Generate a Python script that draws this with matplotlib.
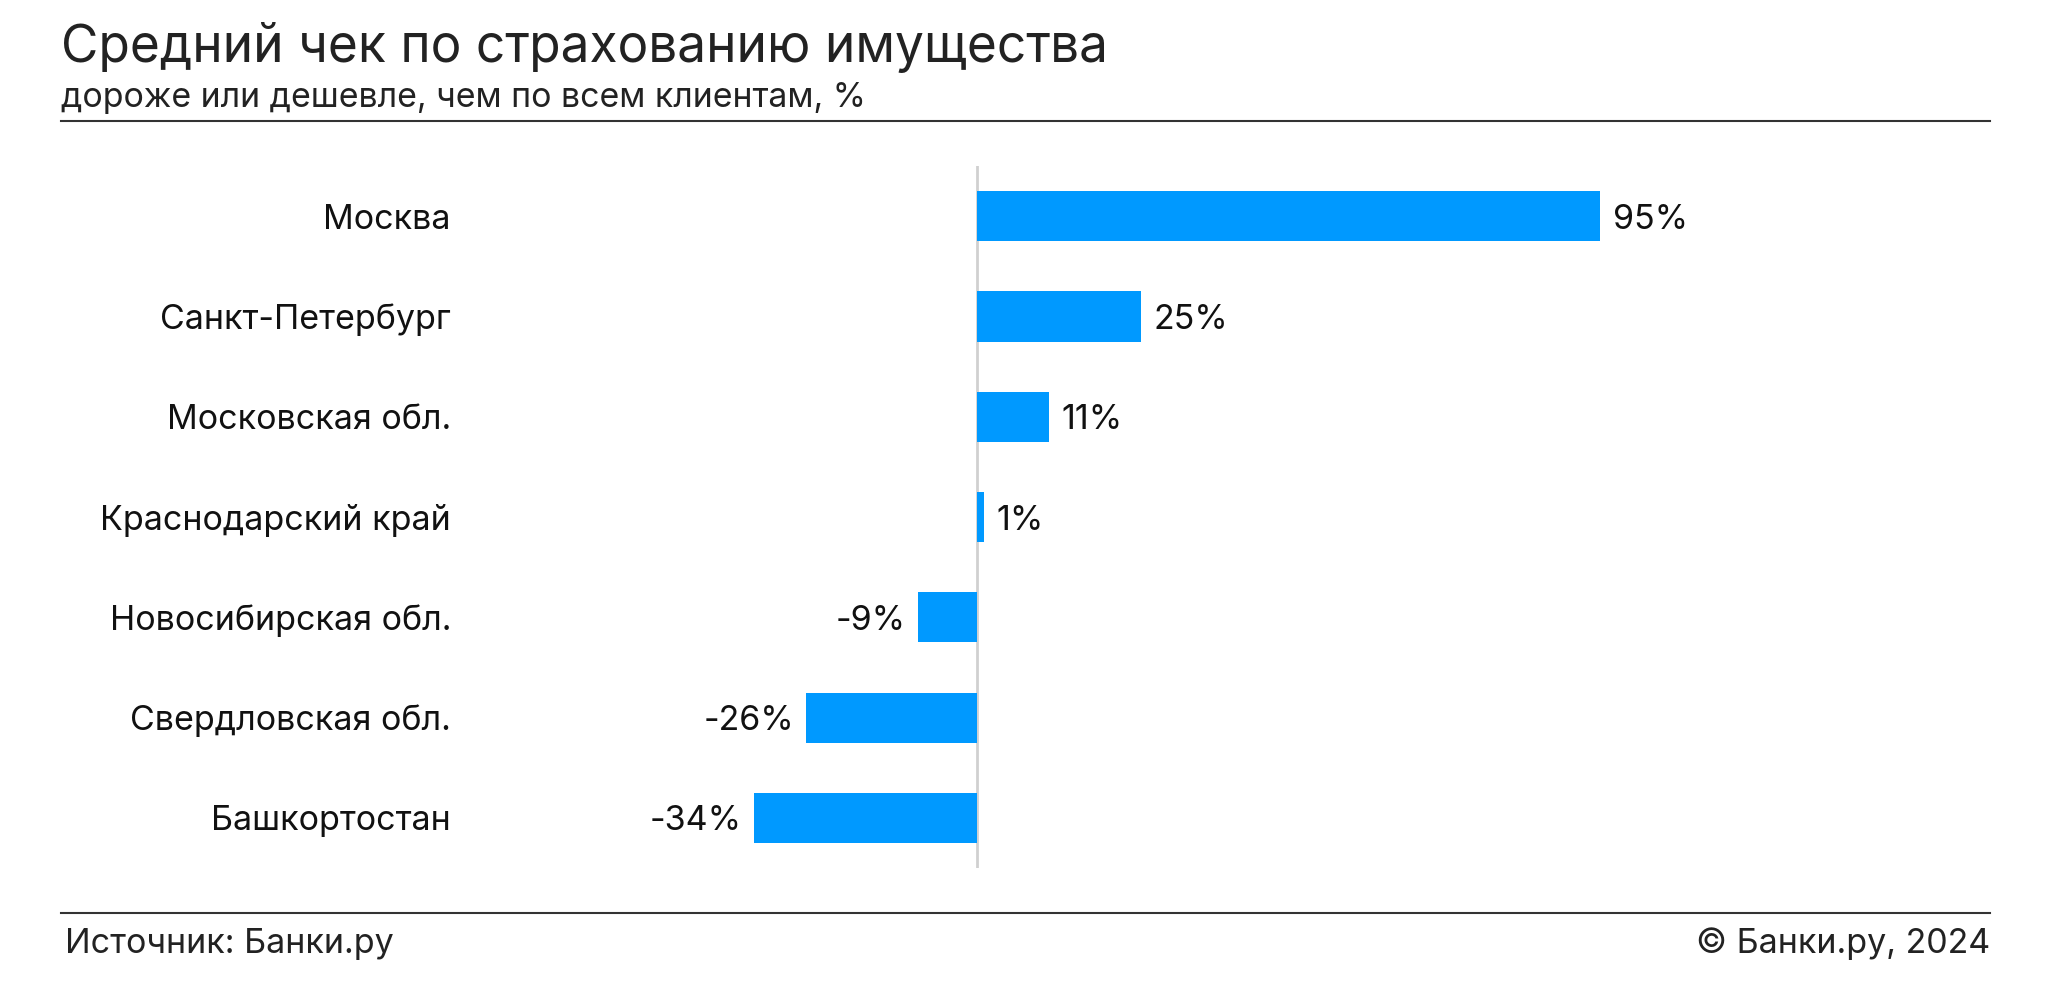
import matplotlib.pyplot as plt
from matplotlib.lines import Line2D

plt.rcParams['font.family'] = ['Inter', 'DejaVu Sans']

# data
regions = ['Москва', 'Санкт-Петербург', 'Московская обл.', 'Краснодарский край',
           'Новосибирская обл.', 'Свердловская обл.', 'Башкортостан']
values = [95, 25, 11, 1, -9, -26, -34]

W, H = 2049, 990
fig = plt.figure(figsize=(W / 100, H / 100), dpi=100)

# axes placed in pixels: zero at x=977, 6.56 px per percent
left_px, right_px = 640, 1700
zero_px, ppu = 977, 6.56
ax = fig.add_axes([left_px / W, 1 - 868 / H, (right_px - left_px) / W, (868 - 166) / H])
ax.set_xlim(-(zero_px - left_px) / ppu, (right_px - zero_px) / ppu)
ax.set_ylim(len(regions) - 0.5, -0.5)

ypos = list(range(len(regions)))
ax.barh(ypos, values, height=0.5, color='#0099ff')
ax.axvline(0, color='#d0d0d0', lw=2, zorder=0)

lab_size = 24.5
for y, v in zip(ypos, values):
    if v >= 0:
        ax.annotate(f'{v}%', (v, y), xytext=(9, 0), textcoords='offset points',
                    ha='left', va='center_baseline', fontsize=lab_size, color='#111111')
    else:
        ax.annotate(f'{v}%', (v, y), xytext=(-9, 0), textcoords='offset points',
                    ha='right', va='center_baseline', fontsize=lab_size, color='#111111')

ax.set_yticks(ypos)
ax.set_yticklabels(regions, fontsize=lab_size, color='#111111', va='center_baseline')
ax.tick_params(axis='y', length=0, pad=(left_px - 451) * 0.72)
ax.set_xticks([])
for s in ax.spines.values():
    s.set_visible(False)

# header / footer
fig.text(61 / W, 1 - 42 / H, 'Средний чек по страхованию имущества', fontsize=37,
         color='#222222', ha='left', va='center_baseline')
fig.text(61 / W, 1 - 95 / H, 'дороже или дешевле, чем по всем клиентам, %', fontsize=24.4,
         color='#222222', ha='left', va='center_baseline')
fig.add_artist(Line2D([61 / W, 1990 / W], [1 - 121 / H, 1 - 121 / H], color='#333333', lw=1.5))
fig.add_artist(Line2D([61 / W, 1990 / W], [1 - 913 / H, 1 - 913 / H], color='#333333', lw=1.5))
fig.text(65 / W, 1 - 940 / H, 'Источник: Банки.ру', fontsize=lab_size, color='#222222',
         ha='left', va='center_baseline')
fig.text(1990 / W, 1 - 940 / H, '© Банки.ру, 2024', fontsize=lab_size, color='#222222',
         ha='right', va='center_baseline')

fig.savefig('out.png', dpi=100, facecolor='white')
